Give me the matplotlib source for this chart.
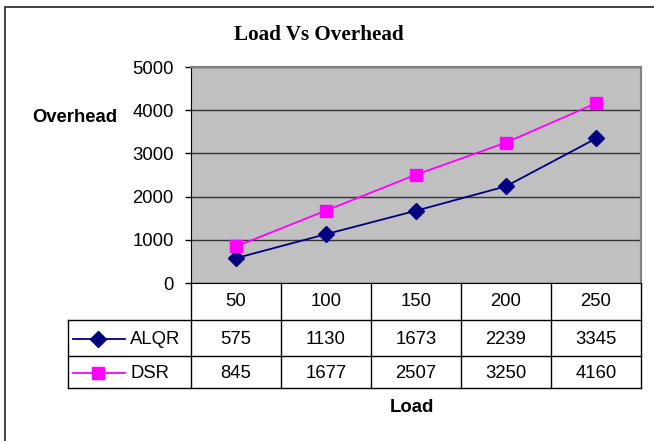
import matplotlib.pyplot as plt
from matplotlib.patches import Rectangle

loads = ['50', '100', '150', '200', '250']
alqr = [575, 1130, 1673, 2239, 3345]
dsr = [845, 1677, 2507, 3250, 4160]
names = ['ALQR', 'DSR']
colors = ['#000080', '#FF00FF']
markers = ['D', 's']
yticks = [0, 1000, 2000, 3000, 4000, 5000]

W, H = 654, 441
FS = 13.3
MS = 8
fig = plt.figure(figsize=(W / 100, H / 100), dpi=100)
plt.rcParams['font.family'] = 'Liberation Sans'


def box(l, t, r, b):
    # pixel box -> figure fraction
    return [l / W, 1 - b / H, (r - l) / W, (b - t) / H]


# outer chart frame (cut off on right and bottom like the reference)
fig.patches.append(Rectangle((5 / W, -0.1), 2, (1 - 7 / H) + 0.1, transform=fig.transFigure,
                             fill=False, ec='#222222', lw=1.2))

ax = fig.add_axes(box(191, 67, 641, 283))
x = list(range(len(loads)))
for vals, c, m in zip([alqr, dsr], colors, markers):
    ax.plot(x, vals, color=c, marker=m, ms=MS, lw=1.3, zorder=3)
ax.set_xlim(-0.5, len(loads) - 0.5)
ax.set_ylim(0, 5000)
ax.set_facecolor('#C0C0C0')
ax.set_yticks(yticks)
ax.set_yticklabels([str(v) for v in yticks], fontsize=FS)
ax.set_xticks([])
ax.tick_params(axis='y', length=4, width=1, pad=8.5)
ax.grid(axis='y', color='#333333', lw=1)
ax.set_axisbelow(True)
for s in ['top', 'right']:
    ax.spines[s].set_color('#808080')
    ax.spines[s].set_linewidth(1.5)
ax.spines['left'].set_color('black')
ax.spines['bottom'].set_color('black')

fig.text(319 / W, 1 - 35 / H, 'Load Vs Overhead', family='Liberation Serif', weight='bold',
         fontsize=15.2, ha='center', va='center')
fig.text(75 / W, 1 - 118 / H, 'Overhead', weight='bold', fontsize=FS, ha='center', va='center')
fig.text(412 / W, 1 - 407 / H, 'Load', weight='bold', fontsize=FS, ha='center', va='center')

# data table below the plot
leg_w = 123 / 90
tab = fig.add_axes(box(68, 283, 641, 388))
tab.set_xlim(-0.5 - leg_w, len(loads) - 0.5)
tab.set_ylim(105, 0)
tab.axis('off')
rows = [0, 37, 73, 105]
lc = 'black'
lw = 1
# vertical lines
for i in range(len(loads) + 1):
    tab.plot([i - 0.5, i - 0.5], [0, 105], color=lc, lw=lw, clip_on=False)
tab.plot([-0.5 - leg_w] * 2, [37, 105], color=lc, lw=lw, clip_on=False)
# horizontal lines
for r in rows[1:]:
    tab.plot([-0.5 - leg_w, len(loads) - 0.5], [r, r], color=lc, lw=lw, clip_on=False)

for i, lab in enumerate(loads):
    tab.text(i, 19, lab, ha='center', va='center', fontsize=FS)
for k, (vals, nm, c, m) in enumerate(zip([alqr, dsr], names, colors, markers)):
    yc = (rows[k + 1] + rows[k + 2]) / 2 + 1
    for i, v in enumerate(vals):
        tab.text(i, yc, str(v), ha='center', va='center', fontsize=FS)
    x0 = -0.5 - leg_w
    tab.plot([x0 + 5 / 90, x0 + 57 / 90], [yc, yc], color=c, lw=1.3, clip_on=False)
    tab.plot([x0 + 30 / 90], [yc], color=c, marker=m, ms=MS, lw=0, clip_on=False)
    tab.text(x0 + 62 / 90, yc, nm, ha='left', va='center', fontsize=FS)

fig.savefig('out.png', dpi=100)
